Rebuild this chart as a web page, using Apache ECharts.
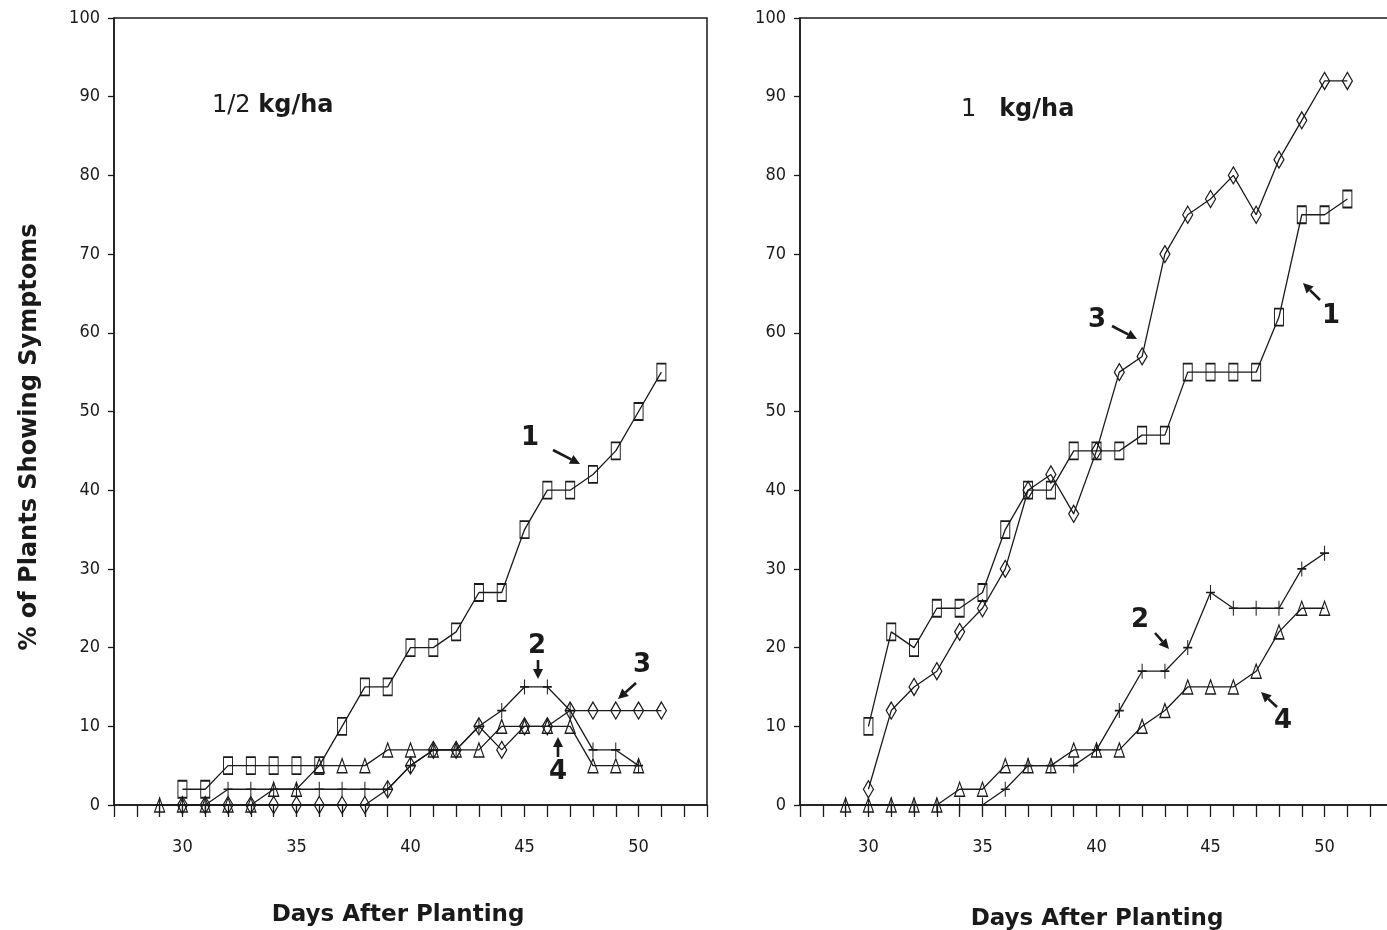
<!DOCTYPE html>
<html>
<head>
<meta charset="utf-8">
<script src="https://cdn.jsdelivr.net/npm/echarts@6/dist/echarts.min.js"></script>
<style>
  html, body { margin: 0; padding: 0; background: #fff; }
  #main { width: 1387px; height: 930px; }
</style>
</head>
<body>
<div id="main"></div>
<script>
// ---- data (days after planting / % plants showing symptoms) ----
// left panel: 1/2 kg/ha
const leftSquareStart = 30
const leftSquare = [2, 2, 5, 5, 5, 5, 5, 10, 15, 15, 20, 20, 22, 27, 27, 35, 40, 40, 42, 45, 50, 55]
const leftPlusStart = 29
const leftPlus = [0, 0, 0, 2, 2, 2, 2, 2, 2, 2, 2, 5, 7, 7, 10, 12, 15, 15, 12, 7, 7, 5]
const leftDiamondStart = 30
const leftDiamond = [0, 0, 0, 0, 0, 0, 0, 0, 0, 2, 5, 7, 7, 10, 7, 10, 10, 12, 12, 12, 12, 12]
const leftTriangleStart = 29
const leftTriangle = [0, 0, 0, 0, 0, 2, 2, 5, 5, 5, 7, 7, 7, 7, 7, 10, 10, 10, 10, 5, 5, 5]

// right panel: 1 kg/ha
const rightSquareStart = 30
const rightSquare = [10, 22, 20, 25, 25, 27, 35, 40, 40, 45, 45, 45, 47, 47, 55, 55, 55, 55, 62, 75, 75, 77]
const rightDiamondStart = 30
const rightDiamond = [2, 12, 15, 17, 22, 25, 30, 40, 42, 37, 45, 55, 57, 70, 75, 77, 80, 75, 82, 87, 92, 92]
const rightPlusStart = 29
const rightPlus = [0, 0, 0, 0, 0, 0, 0, 2, 5, 5, 5, 7, 12, 17, 17, 20, 27, 25, 25, 25, 30, 32]
const rightTriangleStart = 29
const rightTriangle = [0, 0, 0, 0, 0, 2, 2, 5, 5, 5, 7, 7, 7, 10, 12, 15, 15, 15, 17, 22, 25, 25]

// axis ticks
const dayMin = 27
const dayMax = 53
const dayLabels = [30, 35, 40, 45, 50]
const pctTicks = [0, 10, 20, 30, 40, 50, 60, 70, 80, 90, 100]

const INK = '#1a1a1a'
const tickFont = 'Liberation Sans Narrow, DejaVu Sans Condensed, sans-serif'
const boldFont = 'DejaVu Sans, Verdana, sans-serif'

const chart = echarts.init(document.getElementById('main'))

// 把起始天数和数值拼成 [x, y]
const pairs = (start, vals) => vals.map((v, i) => [start + i, v])

const markers = {
  square: { symbol: 'rect', size: [9, 17] },
  plus: { symbol: 'path://M5,0L5,16M0,8L10,8', size: [9, 15] },
  diamond: { symbol: 'path://M5,0L10,8L5,16L0,8Z', size: [10, 17] },
  triangle: { symbol: 'path://M5,0L10,14L0,14Z', size: [10, 14] }
}

const makeSeries = (idx, kind, start, vals) => ({
  type: 'line',
  xAxisIndex: idx,
  yAxisIndex: idx,
  data: pairs(start, vals),
  symbol: markers[kind].symbol,
  symbolSize: markers[kind].size,
  showAllSymbol: true,
  lineStyle: { color: INK, width: 1.3 },
  itemStyle: { color: 'rgba(0,0,0,0)', borderColor: INK, borderWidth: 1.3 },
  emphasis: { disabled: true },
  animation: false,
  z: 3
})

const makeXAxis = (gridIndex) => ({
  type: 'value',
  gridIndex,
  min: dayMin,
  max: dayMax,
  interval: 1,
  axisLine: { show: true, lineStyle: { color: INK, width: 1.5 } },
  axisTick: { show: true, inside: false, length: 12, lineStyle: { color: INK, width: 1.3 } },
  axisLabel: {
    margin: 33,
    color: INK,
    fontFamily: tickFont,
    fontSize: 18,
    formatter: (v) => (dayLabels.includes(v) ? String(v) : '')
  },
  splitLine: { show: false }
})

const makeYAxis = (gridIndex) => ({
  type: 'value',
  gridIndex,
  min: pctTicks[0],
  max: pctTicks[pctTicks.length - 1],
  interval: 10,
  axisLine: { show: true, lineStyle: { color: INK, width: 1.5 } },
  axisTick: { show: true, length: 6, lineStyle: { color: INK, width: 1.3 } },
  axisLabel: { margin: 14, color: INK, fontFamily: tickFont, fontSize: 18 },
  splitLine: { show: false }
})

// 箭头：线段 + 三角形箭头
const arrow = (x1, y1, x2, y2) => {
  const a = Math.atan2(y2 - y1, x2 - x1)
  const L = 10, W = 5
  const bx = x2 - L * Math.cos(a), by = y2 - L * Math.sin(a)
  return [
    {
      type: 'line',
      shape: { x1, y1, x2: bx, y2: by },
      style: { stroke: INK, lineWidth: 2.6 }
    },
    {
      type: 'polygon',
      shape: {
        points: [
          [x2, y2],
          [bx + W * Math.sin(a), by - W * Math.cos(a)],
          [bx - W * Math.sin(a), by + W * Math.cos(a)]
        ]
      },
      style: { fill: INK }
    }
  ]
}

const label = (text, x, y) => ({
  type: 'text',
  x, y,
  style: {
    text,
    fill: INK,
    font: 'bold 26px ' + boldFont,
    textAlign: 'center',
    textVerticalAlign: 'middle'
  }
})

const axisTitle = (text, x, y, size, rotation) => ({
  type: 'text',
  x, y,
  rotation: rotation || 0,
  style: {
    text,
    fill: INK,
    font: 'bold ' + size + 'px ' + boldFont,
    textAlign: 'center',
    textVerticalAlign: 'middle'
  }
})

const graphics = [
  // 左图标题
  {
    type: 'text',
    x: 212, y: 106,
    style: {
      text: '{n|1/2 }{b|kg/ha}',
      textVerticalAlign: 'middle',
      rich: {
        n: { font: '24px ' + boldFont, fill: INK },
        b: { font: 'bold 24px ' + boldFont, fill: INK }
      }
    }
  },
  // 右图标题
  {
    type: 'text',
    x: 961, y: 110,
    style: {
      text: '{n|1   }{b|kg/ha}',
      textVerticalAlign: 'middle',
      rich: {
        n: { font: '24px ' + boldFont, fill: INK },
        b: { font: 'bold 24px ' + boldFont, fill: INK }
      }
    }
  },
  // 轴标题
  axisTitle('% of Plants Showing Symptoms', 30, 437, 24, Math.PI / 2),
  axisTitle('Days After Planting', 398, 915, 23),
  axisTitle('Days After Planting', 1097, 919, 23),
  // 左图曲线编号
  label('1', 530, 438), ...arrow(553, 450, 580, 464),
  label('2', 537, 646), ...arrow(538, 660, 538, 679),
  label('3', 642, 665), ...arrow(636, 683, 618, 699),
  label('4', 558, 772), ...arrow(558, 757, 558, 737),
  // 右图曲线编号
  label('3', 1097, 320), ...arrow(1112, 326, 1137, 339),
  label('1', 1331, 316), ...arrow(1320, 300, 1303, 283),
  label('2', 1140, 620), ...arrow(1155, 633, 1169, 649),
  label('4', 1283, 721), ...arrow(1277, 707, 1261, 692)
]

const option = {
  backgroundColor: '#fff',
  animation: false,
  grid: [
    { left: 114, top: 18, width: 593, height: 787, outerBoundsMode: 'none', show: true, borderColor: INK, borderWidth: 1.5, backgroundColor: 'transparent' },
    { left: 800, top: 18, width: 593, height: 787, outerBoundsMode: 'none', show: true, borderColor: INK, borderWidth: 1.5, backgroundColor: 'transparent' }
  ],
  xAxis: [makeXAxis(0), makeXAxis(1)],
  yAxis: [makeYAxis(0), makeYAxis(1)],
  series: [
    makeSeries(0, 'square', leftSquareStart, leftSquare),
    makeSeries(0, 'plus', leftPlusStart, leftPlus),
    makeSeries(0, 'diamond', leftDiamondStart, leftDiamond),
    makeSeries(0, 'triangle', leftTriangleStart, leftTriangle),
    makeSeries(1, 'square', rightSquareStart, rightSquare),
    makeSeries(1, 'plus', rightPlusStart, rightPlus),
    makeSeries(1, 'diamond', rightDiamondStart, rightDiamond),
    makeSeries(1, 'triangle', rightTriangleStart, rightTriangle)
  ],
  graphic: graphics
}

chart.setOption(option)
</script>
</body>
</html>
